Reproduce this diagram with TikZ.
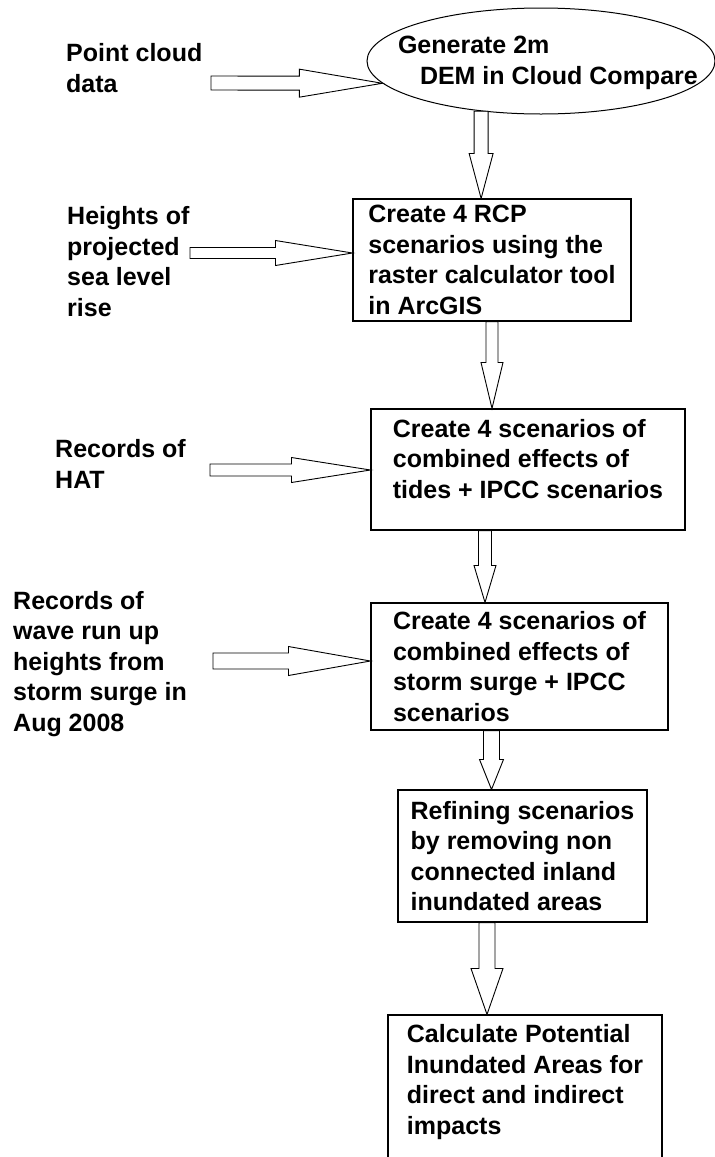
\documentclass[tikz,border=0pt]{standalone}
\usepackage{fontspec}
\setmainfont{Liberation Sans}
\usetikzlibrary{shapes.geometric,calc}

\tikzstyle{stage} = [rectangle, draw=black, line width=1.1pt, inner sep=0pt, align=left, font=\bfseries\fontsize{25}{30.5}\selectfont]
\tikzstyle{oval} = [ellipse, draw=black, line width=1pt, inner sep=0pt, minimum width=348pt, minimum height=106pt, font=\bfseries\fontsize{25}{30.5}\selectfont]
\tikzstyle{src} = [anchor=west, inner sep=0pt, align=left, font=\bfseries\fontsize{25}{30.5}\selectfont]
\tikzstyle{fat} = [draw=black, line width=0.9pt, fill=white, line join=miter]

% block arrow: tail, tip, head length, shaft half width, head half width
\newcommand{\blockarrow}[5]{
  \coordinate (ba-s) at (#1);
  \coordinate (ba-e) at (#2);
  \coordinate (ba-h) at ($(ba-e)!#3!(ba-s)$);
  \draw[fat] ($(ba-s)!#4!90:(ba-e)$) -- ($(ba-h)!#4!90:(ba-e)$) -- ($(ba-h)!#5!90:(ba-e)$) -- (ba-e)
    -- ($(ba-h)!#5!-90:(ba-e)$) -- ($(ba-h)!#4!-90:(ba-e)$) -- ($(ba-s)!#4!-90:(ba-e)$) -- cycle;
}

\begin{document}
\begin{tikzpicture}[x=1pt,y=-1pt]
\useasboundingbox (0,0) rectangle (715,1157);

\node[oval] (dem) at (541,61) {\smash{\makebox[0pt][l]{\hspace*{-143pt}\raisebox{-8pt}{\parbox{330pt}{Generate 2m\\\hspace*{22pt}DEM in Cloud Compare}}}}};

\node[stage, minimum width=278pt, minimum height=122pt] (rcp) at (492,260)
  {Create 4 RCP\\scenarios using the\\raster calculator tool\\in ArcGIS};
\node[stage, minimum width=314pt, minimum height=121pt, text depth=22pt] (tides) at (528,469.5)
  {Create 4 scenarios of\\combined effects of\\tides + IPCC scenarios};
\node[stage, minimum width=297pt, minimum height=127pt] (surge) at (519.5,666.5)
  {Create 4 scenarios of\\combined effects of\\storm surge + IPCC\\scenarios};
\node[stage, minimum width=249pt, minimum height=132pt] (refine) at (522.5,856)
  {Refining scenarios\\by removing non\\connected inland\\inundated areas};
\node[stage, minimum width=274pt, minimum height=145pt, text depth=16pt] (impact) at (525,1087.5)
  {Calculate Potential\\Inundated Areas for\\direct and indirect\\impacts};

\node[src] (cloud) at (66,68) {Point cloud\\data};
\node[src] (slr) at (67,261.5) {Heights of\\projected\\sea level\\rise};
\node[src] (hat) at (55,464) {Records of\\HAT};
\node[src] (wave) at (13,664) {Records of\\wave run up\\heights from\\storm surge in\\Aug 2008};

\coordinate (t1) at (211,83);
\coordinate (t2) at (190,253);
\coordinate (t3) at (210,470);
\coordinate (t4) at (213,661);

% inputs
\blockarrow{t1}{dem.188}{83pt}{7pt}{14pt}
\blockarrow{t2}{t2 -| rcp.west}{77pt}{5.5pt}{12.5pt}
\blockarrow{t3}{t3 -| tides.west}{79pt}{6pt}{12.5pt}
\blockarrow{t4}{t4 -| surge.west}{82pt}{8pt}{14.5pt}

% main chain
\blockarrow{dem.220}{ba-s |- rcp.north}{45pt}{7pt}{12pt}
\blockarrow{rcp.south}{ba-s |- tides.north}{46pt}{6pt}{11pt}
\blockarrow{[xshift=-43pt]tides.south}{ba-s |- surge.north}{37pt}{6.5pt}{11pt}
\blockarrow{[xshift=-28pt]surge.south}{ba-s |- refine.north}{30pt}{8pt}{12pt}
\blockarrow{[xshift=-35.5pt]refine.south}{ba-s |- impact.north}{46pt}{8pt}{16pt}

\end{tikzpicture}
\end{document}
